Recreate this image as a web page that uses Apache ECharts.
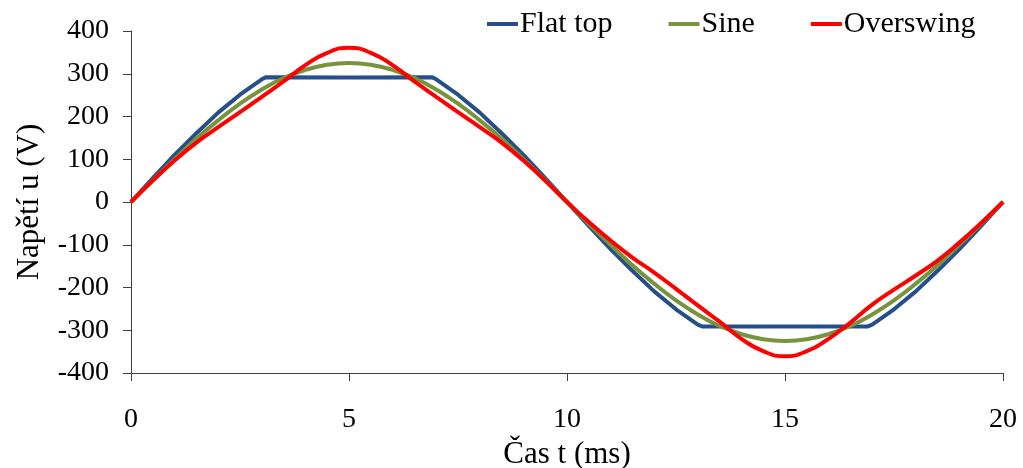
<!DOCTYPE html>
<html>
<head>
<meta charset="utf-8">
<script src="https://cdn.jsdelivr.net/npm/echarts@6/dist/echarts.min.js"></script>
<style>
html,body{margin:0;padding:0;background:#fff;}
#chart{width:1023px;height:468px;}
</style>
</head>
<body>
<div id="chart"></div>
<script>
// Time axis (ms) for the Sine and Overswing samples
const tWave = [0,0.5,1,1.5,2,2.5,3,3.5,4,4.5,5,5.5,6,6.5,7,7.5,8,8.5,9,9.5,10,
  10.5,11,11.5,12,12.5,13,13.5,14,14.5,15,15.5,16,16.5,17,17.5,18,18.5,19,19.5,20];
const sineV = [0,51,100,148,191,230,263,290,309,321,325,321,309,290,263,230,191,148,100,51,0,
  -51,-100,-148,-191,-230,-263,-290,-309,-321,-325,-321,-309,-290,-263,-230,-191,-148,-100,-51,0];
const overV = [0,50,97,139,175,210,246,282,320,349,361,349,320,282,246,210,175,139,97,50,0,
  -47,-90,-130,-165,-203,-242,-280,-320,-349,-361,-349,-320,-282,-240,-205,-172,-137,-95,-49,0];
// Flat top samples
const tFlat = [0,0.5,1,1.5,2,2.5,3,3.1,5,6.9,7,7.5,8,8.5,9,9.5,10,
  10.5,11,11.5,12,12.5,13,13.1,15,16.9,17,17.5,18,18.5,19,19.5,20];
const flatV = [0,56,110,161,209,251,287,292,291,292,287,251,209,161,110,56,0,
  -56,-110,-161,-209,-251,-287,-291,-291,-291,-287,-251,-209,-161,-110,-56,0];
const seriesNames = ['Flat top','Sine','Overswing'];
const xTitle = 'Čas t (ms)';
const yTitle = 'Napětí u (V)';

const zip = (a,b) => a.map((v,i)=>[v,b[i]]);
const FONT = "'Liberation Serif', 'Times New Roman', serif";
const chart = echarts.init(document.getElementById('chart'));
chart.setOption({
  animation:false,
  backgroundColor:'#fff',
  textStyle:{fontFamily:FONT},
  grid:{left:131,right:20,top:31,bottom:95,containLabel:false,outerBoundsMode:'none'},
  legend:{
    data:seriesNames,
    left:482, top:4,
    icon:'rect', itemWidth:31, itemHeight:4, itemGap:56,
    textStyle:{fontFamily:FONT,fontSize:30,color:'#000',padding:[0,0,0,-3]}
  },
  xAxis:{
    type:'value', min:0, max:20, interval:5,
    name:xTitle, nameLocation:'middle', nameGap:62,
    nameTextStyle:{fontFamily:FONT,fontSize:31,color:'#000'},
    axisLine:{onZero:false,lineStyle:{color:'#404040',width:1}},
    axisTick:{show:true,length:8,lineStyle:{color:'#404040'}},
    axisLabel:{fontFamily:FONT,fontSize:28,color:'#000',margin:33},
    splitLine:{show:false}
  },
  yAxis:{
    type:'value', min:-400, max:400, interval:100,
    name:yTitle, nameLocation:'middle', nameGap:86, nameRotate:90,
    nameTextStyle:{fontFamily:FONT,fontSize:31,color:'#000'},
    axisLine:{show:true,onZero:false,lineStyle:{color:'#404040',width:1}},
    axisTick:{show:true,length:8,lineStyle:{color:'#404040'}},
    axisLabel:{fontFamily:FONT,fontSize:28,color:'#000',margin:22},
    splitLine:{show:false}
  },
  series:[
    {name:seriesNames[0],type:'line',data:zip(tFlat,flatV),showSymbol:false,smooth:false,
     lineStyle:{color:'#254F8A',width:4},itemStyle:{color:'#254F8A'}},
    {name:seriesNames[1],type:'line',data:zip(tWave,sineV),showSymbol:false,smooth:true,
     lineStyle:{color:'#77933C',width:4},itemStyle:{color:'#77933C'}},
    {name:seriesNames[2],type:'line',data:zip(tWave,overV),showSymbol:false,smooth:true,
     lineStyle:{color:'#FF0000',width:4},itemStyle:{color:'#FF0000'}}
  ]
});
</script>
</body>
</html>
